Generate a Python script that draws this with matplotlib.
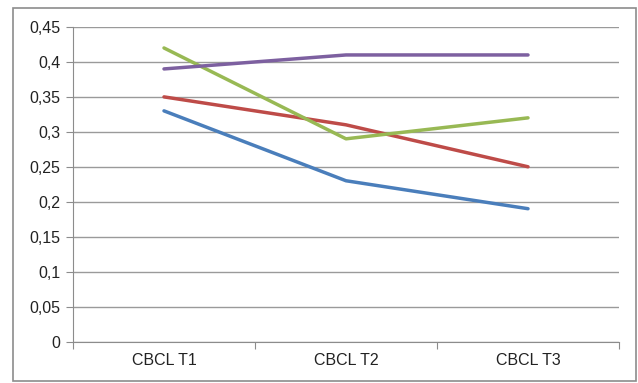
import matplotlib
matplotlib.use("Agg")
import matplotlib.pyplot as plt
from matplotlib.patches import Rectangle
from matplotlib.ticker import FuncFormatter, MultipleLocator

categories = ["CBCL T1", "CBCL T2", "CBCL T3"]
blue = [0.33, 0.23, 0.19]
red = [0.35, 0.31, 0.25]
green = [0.42, 0.29, 0.32]
purple = [0.39, 0.41, 0.41]

series = [
    (blue, "#4a7ebb"),
    (red, "#be4b48"),
    (green, "#98b954"),
    (purple, "#7d60a0"),
]

plt.rcParams["font.family"] = ["Liberation Sans", "DejaVu Sans"]

W, H = 638, 383
fig = plt.figure(figsize=(W / 100, H / 100), dpi=100)
ax = fig.add_axes([73 / W, 1 - 341.5 / H, (619 - 73) / W, (341.5 - 27) / H])

# outer chart border
fig.patches.append(Rectangle((13 / W, 1 - 381 / H), (636 - 13) / W, (381 - 8) / H,
                             transform=fig.transFigure, fill=False,
                             edgecolor="#8c8c8c", lw=1.2))

x = range(len(categories))
for vals, c in series:
    ax.plot(x, vals, color=c, lw=2.5, solid_capstyle="round", zorder=3)

ax.set_xlim(-0.5, len(categories) - 0.5)
ax.set_ylim(0, 0.45)
ax.yaxis.set_major_locator(MultipleLocator(0.05))
ax.yaxis.set_major_formatter(FuncFormatter(
    lambda v, p: "0" if abs(v) < 1e-9 else f"{v:.2f}".rstrip("0").replace(".", ",")))
ax.grid(axis="y", color="#9a9a9a", lw=1.0)
ax.set_axisbelow(True)

ax.set_xticks([i - 0.5 for i in range(len(categories) + 1)])
ax.set_xticklabels([])
ax.set_xticks(list(x), minor=True)
ax.set_xticklabels(categories, minor=True)
ax.tick_params(axis="x", which="minor", length=0, pad=8, labelsize=11.5, colors="#222222")
ax.tick_params(axis="x", which="major", length=5, color="#8c8c8c")
ax.tick_params(axis="y", length=5, color="#8c8c8c", labelsize=11.5, labelcolor="#222222", pad=4)

for s in ["top", "right"]:
    ax.spines[s].set_visible(False)
for s in ["left", "bottom"]:
    ax.spines[s].set_color("#8c8c8c")

fig.savefig("out.png", dpi=100)
